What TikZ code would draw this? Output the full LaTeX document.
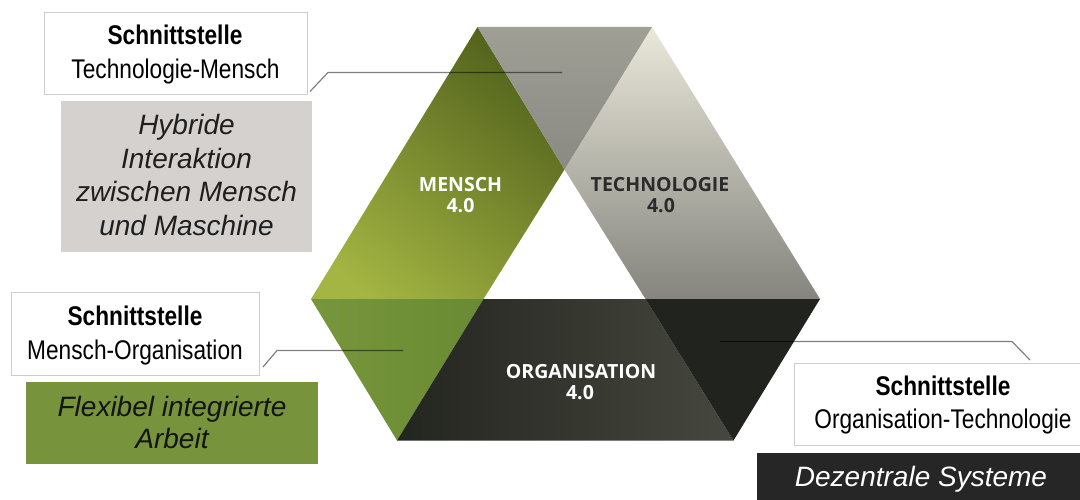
\documentclass[tikz,border=0pt]{standalone}
\usepackage{fontspec}
\setmainfont{Liberation Sans}
\newfontfamily\narrowfont[FakeStretch=0.84]{Liberation Sans}
\newfontfamily\pillarfont{Open Sans}
\begin{document}
\begin{tikzpicture}[x=1pt,y=-1pt,
  ifbox/.style={draw=boxline, fill=white, line width=0.9pt, inner sep=0pt},
  boxtitle/.style={anchor=base, font=\narrowfont\fontsize{27}{32}\selectfont\bfseries, text=black},
  boxsub/.style={anchor=base, font=\narrowfont\fontsize{27}{32}\selectfont, text=black},
  keytext/.style={anchor=base, font=\fontsize{28}{33}\selectfont\itshape},
  pillar/.style={anchor=base, font=\pillarfont\fontsize{19.5}{22}\selectfont\bfseries},
  leader/.style={draw=black, draw opacity=0.5, line width=1.2pt}]

\definecolor{boxline}{HTML}{CDCDCD}
\definecolor{greybox}{HTML}{D4D1CF}
\definecolor{greenbox}{HTML}{77933C}
\definecolor{darkbox}{HTML}{262626}
\definecolor{mDark}{HTML}{4D5D1A}
\definecolor{mMid}{HTML}{8EA43A}
\definecolor{mLight}{HTML}{A4B543}
\definecolor{tTop}{HTML}{EAE8DA}
\definecolor{tMid}{HTML}{C6C5BA}
\definecolor{tBot}{HTML}{85847E}
\definecolor{mtTop}{HTML}{A09F96}
\definecolor{mtBot}{HTML}{8A8982}
\definecolor{moLeft}{HTML}{77963C}
\definecolor{moRight}{HTML}{6A8A33}
\definecolor{oLeft}{HTML}{23251F}
\definecolor{oRight}{HTML}{46473E}
\definecolor{otDark}{HTML}{21231E}
\definecolor{techtext}{HTML}{2B2B2B}

\useasboundingbox (0,0) rectangle (1080,500);
\clip (0,0) rectangle (1080,500);

% corner points of the three pillars
\coordinate (TL) at (477.5,27);
\coordinate (TR) at (652,27);
\coordinate (A)  at (564.5,169.5);
\coordinate (L)  at (311,299);
\coordinate (B)  at (483.5,299);
\coordinate (C)  at (645.5,299);
\coordinate (R)  at (820,299);
\coordinate (BL) at (397,440.5);
\coordinate (BR) at (733.5,440.5);

% Mensch 4.0
\begin{scope}
  \clip (TL) -- (A) -- (B) -- (L) -- cycle;
  \shade[top color=mDark, middle color=mMid, bottom color=mLight, shading angle=-38]
    (290,15) rectangle (590,310);
\end{scope}
% Technologie 4.0
\begin{scope}
  \clip (TR) -- (R) -- (C) -- (A) -- cycle;
  \shade[top color=tTop, middle color=tMid, bottom color=tBot]
    (550,27) rectangle (830,299);
\end{scope}
% interface Technologie-Mensch
\shade[top color=mtTop, bottom color=mtBot] (TL) -- (TR) -- (A) -- cycle;
% interface Mensch-Organisation
\shade[left color=moLeft, right color=moRight] (L) -- (B) -- (BL) -- cycle;
% Organisation 4.0
\shade[left color=oLeft, right color=oRight] (B) -- (C) -- (BR) -- (BL) -- cycle;
% interface Organisation-Technologie
\fill[otDark] (C) -- (R) -- (BR) -- cycle;

% pillar labels
\node[pillar, text=white] (mensch) at (460.5,191.7) {MENSCH};
\node[pillar, text=white] (mensch40) at (460.5,212.7) {4.0};
\node[pillar, text=techtext] (tech) at (660,191.7) {TECHNOLOGIE};
\node[pillar, text=techtext] (tech40) at (661,212.7) {4.0};
\node[pillar, text=white] (orga) at (581,378.3) {ORGANISATION};
\node[pillar, text=white] (orga40) at (580,399) {4.0};

% interface Technologie-Mensch
\node[ifbox, minimum width=263, minimum height=82] (tmbox) at (175.5,53) {};
\node[boxtitle] (tmtitle) at (175,45) {Schnittstelle};
\node[boxsub] (tmsub) at (175.5,79) {Technologie-Mensch};
\node[fill=greybox, inner sep=0pt, minimum width=251, minimum height=151] (tmkey) at (186.5,176.5) {};
\node[keytext, text=black!88] (tmk1) at (186.5,135) {Hybride};
\node[keytext, text=black!88] (tmk2) at (186.5,168.5) {Interaktion};
\node[keytext, text=black!88] (tmk3) at (186.5,202) {zwischen Mensch};
\node[keytext, text=black!88] (tmk4) at (186.5,235.5) {und Maschine};

% interface Mensch-Organisation
\node[ifbox, minimum width=248, minimum height=83] (mobox) at (135,333.5) {};
\node[boxtitle] (motitle) at (135,325.7) {Schnittstelle};
\node[boxsub] (mosub) at (135,359.3) {Mensch-Organisation};
\node[fill=greenbox, inner sep=0pt, minimum width=292, minimum height=82] (mokey) at (172,423) {};
\node[keytext, text=black!92] (mok1) at (172,416) {Flexibel integrierte};
\node[keytext, text=black!92] (mok2) at (172,448) {Arbeit};

% interface Organisation-Technologie
\node[ifbox, minimum width=298, minimum height=82] (otbox) at (943,404) {};
\node[boxtitle] (ottitle) at (943,395) {Schnittstelle};
\node[boxsub] (otsub) at (943,428.3) {Organisation-Technologie};
\node[fill=darkbox, inner sep=0pt, minimum width=330, minimum height=50] (otkey) at (922,478) {};
\node[keytext, text=white] (otk1) at (921,486) {Dezentrale Systeme};

% leader lines from the boxes to the interface areas
\coordinate (tmfoot) at (310,91.5);
\coordinate (tmbend) at (328,72.5);
\coordinate (tmtip) at (562,72.5);
\draw[leader] (tmfoot) -- (tmbend) -- (tmtip);
\coordinate (mofoot) at (263,367);
\coordinate (mobend) at (277,350.5);
\coordinate (motip) at (403,350.5);
\draw[leader] (mofoot) -- (mobend) -- (motip);
\coordinate (otfoot) at (1030,360);
\coordinate (otbend) at (1012,341.5);
\coordinate (ottip) at (720,341.5);
\draw[leader] (ottip) -- (otbend) -- (otfoot);
\end{tikzpicture}
\end{document}
